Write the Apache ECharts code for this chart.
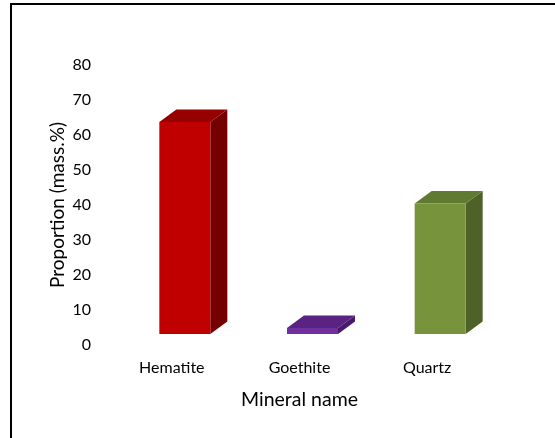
<!DOCTYPE html>
<html>
<head>
<meta charset="utf-8">
<script src="https://cdn.jsdelivr.net/npm/echarts@6/dist/echarts.min.js"></script>
<style>
html,body{margin:0;padding:0;background:#fff;}
#chart{width:555px;height:438px;}
</style>
</head>
<body>
<div id="chart"></div>
<script>
const categories = ['Hematite', 'Goethite', 'Quartz'];
const proportions = [60.6, 1.7, 37.3];
const yTicks = [0, 10, 20, 30, 40, 50, 60, 70, 80];

const faceFront = ['#C00000', '#7030A0', '#77933C'];
const faceTop   = ['#960000', '#5A2382', '#617A31'];
const faceSide  = ['#740000', '#47196A', '#4E6228'];

const FONT = 'Lato';
const W = 51, OFF_X = 13, OFF_Y = 11, DX = 17, DY = 12.5;

const chart = echarts.init(document.getElementById('chart'), null, {renderer: 'canvas'});
chart.setOption({
  animation: false,
  backgroundColor: '#fff',
  grid: {left: 108, right: 64, top: 65, bottom: 93, containLabel: false},
  xAxis: {
    type: 'category',
    data: categories,
    axisLine: {show: false},
    axisTick: {show: false},
    axisLabel: {color: '#000', fontFamily: FONT, fontSize: 16, margin: 15},
    name: 'Mineral name',
    nameLocation: 'middle',
    nameGap: 45,
    nameMoveOverlap: false,
    nameTextStyle: {color: '#000', fontFamily: FONT, fontSize: 19.5}
  },
  yAxis: {
    type: 'value',
    min: yTicks[0],
    max: yTicks[yTicks.length - 1],
    interval: yTicks[1] - yTicks[0],
    splitLine: {show: false},
    axisLine: {show: false},
    axisTick: {show: false},
    axisLabel: {color: '#000', fontFamily: FONT, fontSize: 16, margin: 17},
    name: 'Proportion (mass.%)',
    nameLocation: 'middle',
    nameGap: 41,
    nameMoveOverlap: false,
    nameTextStyle: {color: '#000', fontFamily: FONT, fontSize: 19}
  },
  graphic: [
    {type: 'line', shape: {x1: 10, y1: 4, x2: 555, y2: 4}, style: {stroke: '#000', lineWidth: 2}},
    {type: 'line', shape: {x1: 11, y1: 3, x2: 11, y2: 438}, style: {stroke: '#000', lineWidth: 2}}
  ],
  series: [{
    type: 'custom',
    data: proportions.map((v, i) => [i, v]),
    renderItem: function (params, api) {
      const i = api.value(0);
      const c0 = api.coord([i, 0]);
      const c1 = api.coord([i, api.value(1)]);
      const x0 = c0[0] + OFF_X - W / 2, x1 = x0 + W;
      const yb = c0[1] - OFF_Y, yt = c1[1] - OFF_Y;
      return {
        type: 'group',
        children: [
          {type: 'polygon', shape: {points: [[x1, yt], [x1 + DX, yt - DY], [x1 + DX, yb - DY], [x1, yb]]},
           style: {fill: faceSide[i]}},
          {type: 'polygon', shape: {points: [[x0, yt], [x1, yt], [x1 + DX, yt - DY], [x0 + DX, yt - DY]]},
           style: {fill: faceTop[i]}},
          {type: 'rect', shape: {x: x0, y: yt, width: W, height: yb - yt},
           style: {fill: faceFront[i]}}
        ]
      };
    }
  }]
});
</script>
</body>
</html>
